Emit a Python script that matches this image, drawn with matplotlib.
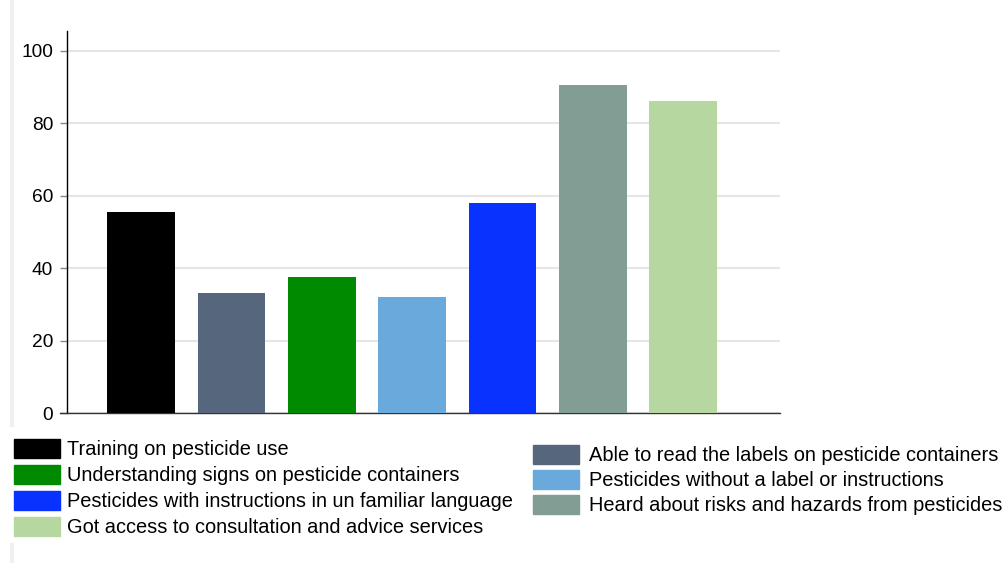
import matplotlib.pyplot as plt
from matplotlib.patches import Patch
from matplotlib.lines import Line2D

plt.rcParams['font.family'] = ['Liberation Sans', 'DejaVu Sans']

# data
categories = [
    'Training on pesticide use',
    'Able to read the labels on pesticide containers',
    'Understanding signs on pesticide containers',
    'Pesticides without a label or instructions',
    'Pesticides with instructions in un familiar language',
    'Heard about risks and hazards from pesticides',
    'Got access to consultation and advice services',
]
values = [55.5, 33.1, 37.6, 32.0, 58.0, 90.6, 86.2]
colors = ['#000000', '#56677d', '#008a00', '#6aa9dc', '#0a32ff', '#829e94', '#b6d7a0']
yticks = [0, 20, 40, 60, 80, 100]

fig = plt.figure(figsize=(10.07, 5.63), dpi=100)
ax = fig.add_axes([67/1007, 1 - 413/563, (780-67)/1007, (413-31)/563])

x = list(range(len(values)))
bars = ax.bar(x, values, width=0.75, color=colors, zorder=3)

ax.set_xlim(-0.82, 7.07)
ax.set_ylim(0, 105.5)
ax.set_xticks([])
ax.set_yticks(yticks)
ax.tick_params(axis='y', length=5, width=1, color='#888888', pad=5, labelsize=13.8)
ax.yaxis.grid(True, color='#e6e6e6', linewidth=1.5, zorder=0)
ax.set_axisbelow(True)

for s in ['top', 'right']:
    ax.spines[s].set_visible(False)
ax.spines['left'].set_color('black')
ax.spines['left'].set_linewidth(1)
ax.spines['bottom'].set_color('#333333')
ax.spines['bottom'].set_linewidth(1)
ax.spines['bottom'].set_bounds(-0.9, 7.07)

# light strip at the left edge
fig.add_artist(Line2D([12/1007, 12/1007], [1 - 425/563, 1], color='#f0f0f0', linewidth=3))
fig.add_artist(Line2D([12/1007, 12/1007], [0, 1 - 545/563], color='#f0f0f0', linewidth=3))

# legends in two columns
left_idx = [0, 2, 4, 6]
right_idx = [1, 3, 5]
common = dict(frameon=False, fontsize=14.4, handlelength=2.3, handleheight=1.05,
              borderpad=0, borderaxespad=0, labelspacing=0.3)
fig.legend([Patch(color=colors[i]) for i in left_idx], [categories[i] for i in left_idx],
           loc='upper left', bbox_to_anchor=(14/1007, 1 - 439/563), handletextpad=0.35, **common)
fig.legend([Patch(color=colors[i]) for i in right_idx], [categories[i] for i in right_idx],
           loc='upper left', bbox_to_anchor=(533/1007, 1 - 445/563), handletextpad=0.5,
           **dict(common, labelspacing=0.25))

plt.savefig('out.png', dpi=100)
